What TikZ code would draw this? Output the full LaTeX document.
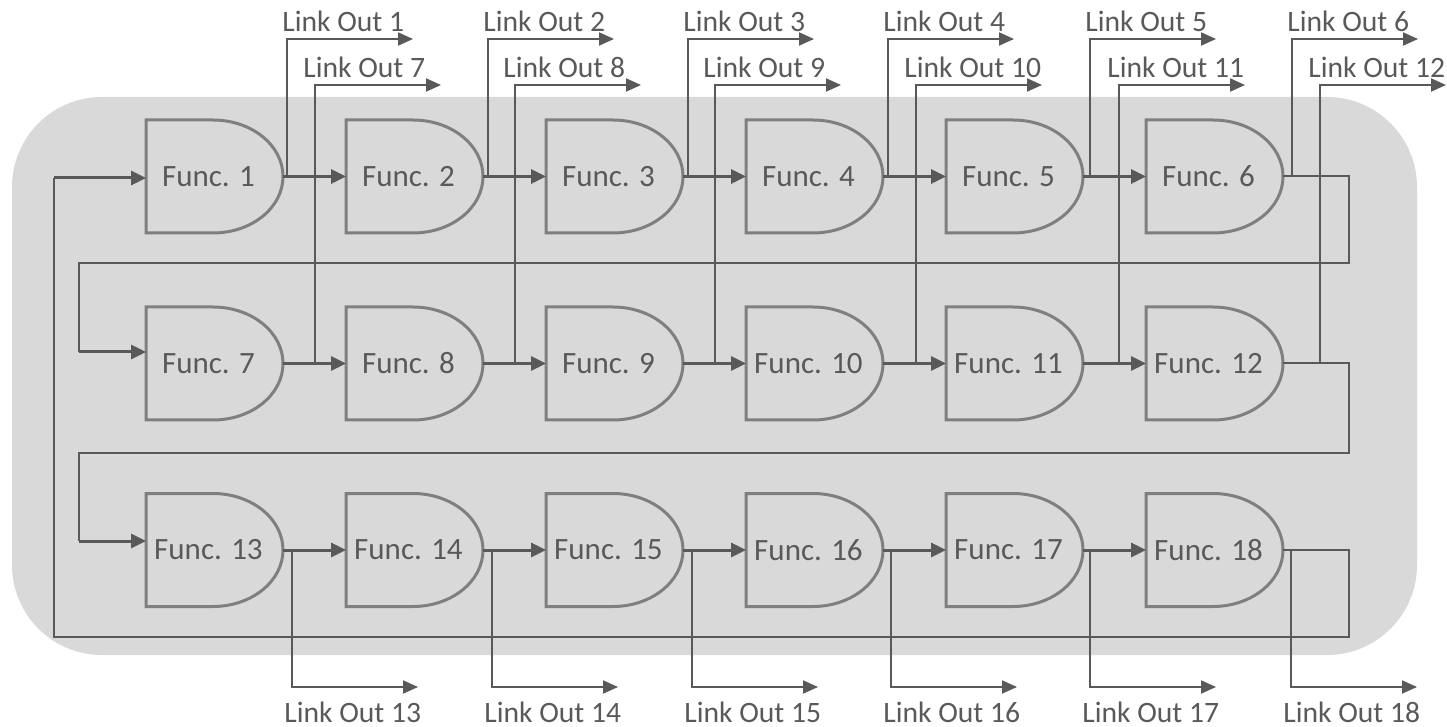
\documentclass[tikz,border=0pt]{standalone}
\usepackage{fontspec}
\setmainfont{Carlito}
\usetikzlibrary{arrows.meta,calc}
\definecolor{bg}{HTML}{D9D9D9}
\definecolor{ln}{HTML}{595959}
\definecolor{sh}{HTML}{7F7F7F}
\begin{document}
\begin{tikzpicture}[x=0.5pt,y=-0.5pt,
  funcbox/.style={minimum width=68.5pt,minimum height=56.5pt,inner sep=0pt,outer sep=0pt},
  funcshape/.style={draw=sh,line width=1.5pt,fill=bg},
  chain/.style={draw=ln,line width=1.5pt,-{Triangle[length=7.5pt,width=7pt]}},
  wire/.style={draw=ln,line width=1pt},
  linkarrow/.style={draw=ln,line width=1pt,-{Triangle[length=7.5pt,width=6.5pt]}},
  lbl/.style={text=ln,font=\fontsize{14.8}{17}\selectfont,inner sep=0pt,anchor=base west},
  ftext/.style={text=ln,font=\fontsize{15.5}{18}\selectfont,inner sep=0pt}
]
\useasboundingbox (0,0) rectangle (1447,727);
\fill[bg,rounded corners=45pt] (12,97) rectangle (1417,655);

% function shapes
\foreach \r/\yc in {0/176.5,1/363.5,2/550} {
  \foreach \c in {1,...,6} {
    \pgfmathtruncatemacro\n{\r*6+\c}
    \node[funcbox] (f\n) at ({214.5+200*(\c-1)},\yc) {};
    \draw[funcshape] (f\n.north west) -- ++(67,0)
      arc[start angle=90,end angle=-90,x radius=35pt,y radius=28.25pt]
      -- (f\n.south west) -- cycle;
    \node[ftext] (t\n) at ($(f\n.center)+(-6,0)$) {Func. \n};
  }
}

% chain arrows within rows
\foreach \a/\b in {1/2,2/3,3/4,4/5,5/6,7/8,8/9,9/10,10/11,11/12,13/14,14/15,15/16,16/17,17/18} {
  \draw[chain] (f\a.east) -- (f\b.west);
}

% link outs, row 1
\foreach \n/\x in {1/287,2/488,3/688,4/888,5/1090,6/1292} {
  \coordinate (lo\n) at (\x,39);
  \draw[linkarrow] (f\n.east -| lo\n) -- (lo\n) -- ++(126,0);
  \node[lbl] (l\n) at ($(lo\n)+(-5,-7)$) {Link Out \n};
}
% link outs, row 2
\foreach \n/\x in {7/315,8/515,9/715,10/916,11/1119,12/1320} {
  \coordinate (lo\n) at (\x,85);
  \draw[linkarrow] (f\n.east -| lo\n) -- (lo\n) -- ++(126,0);
  \node[lbl] (l\n) at ($(lo\n)+(-12,-7)$) {Link Out \n};
}
% link outs, row 3
\foreach \n/\x in {13/292,14/492,15/692,16/891,17/1090,18/1291} {
  \coordinate (lo\n) at (\x,687);
  \draw[linkarrow] (f\n.east -| lo\n) -- (lo\n) -- ++(126,0);
  \node[lbl] (l\n) at ($(lo\n)+(-8,35)$) {Link Out \n};
}

% wrap-around connectors
\coordinate (in7) at (79,352);
\coordinate (in13) at (79,541);
\coordinate (in1) at (54,178);
\draw[wire] (f6.east) -| (1349,263) -| (in7);
\draw[chain] (in7) -- (in7 -| f7.west);
\draw[wire] (f12.east) -| (1349,453) -| (in13);
\draw[chain] (in13) -- (in13 -| f13.west);
\draw[wire] (f18.east) -| (1349,637) -| (in1);
\draw[chain] (in1) -- (in1 -| f1.west);
\end{tikzpicture}
\end{document}
